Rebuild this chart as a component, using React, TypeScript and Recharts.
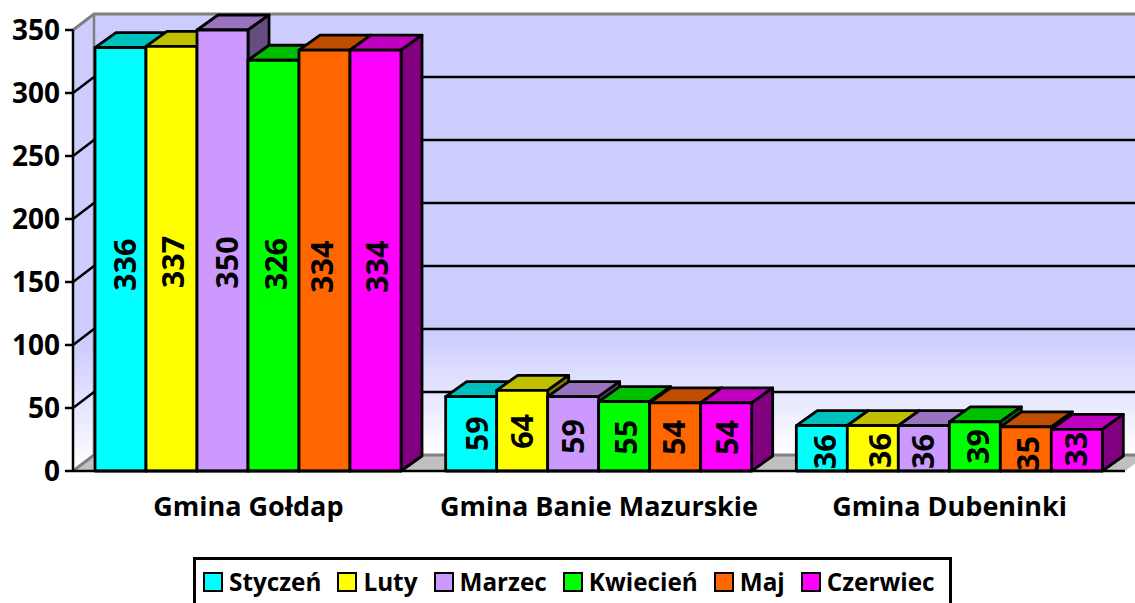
import React from "react";
import { BarChart, Bar, XAxis, YAxis, CartesianGrid, ReferenceArea, Legend, LabelList } from "recharts";

const categories = ["Gmina Gołdap", "Gmina Banie Mazurskie", "Gmina Dubeninki"];
const styczen = [336, 59, 36];
const luty = [337, 64, 36];
const marzec = [350, 59, 36];
const kwiecien = [326, 55, 39];
const maj = [334, 54, 35];
const czerwiec = [334, 54, 33];
const yTicks = [0, 50, 100, 150, 200, 250, 300, 350];
const edgeTicks = [0, 1, 2, 3];

const seriesList = [
  { name: "Styczeń", values: styczen, color: [0, 255, 255] },
  { name: "Luty", values: luty, color: [255, 255, 0] },
  { name: "Marzec", values: marzec, color: [204, 153, 255] },
  { name: "Kwiecień", values: kwiecien, color: [0, 255, 0] },
  { name: "Maj", values: maj, color: [255, 102, 0] },
  { name: "Czerwiec", values: czerwiec, color: [255, 0, 255] },
];

// Label placement nudges (px, relative to the bar centre), one row per series, one column per category.
const labelNudgeX = [
  [5.5, 6.5, 4],
  [2.5, 0, 8],
  [4.5, 0, 0],
  [3, 2, 4],
  [-2, -1, 3],
  [2, 1, 0],
];
const labelNudgeY = [
  [5.4, 0, 3.5],
  [3.3, 0.7, 2.2],
  [12, 2.6, 3.2],
  [-1.5, 1, 0],
  [6.2, 0.5, 4.5],
  [6.2, 0.5, -1],
];

const rows = categories.map((category, i) => {
  const row: Record<string, string | number> = { category };
  seriesList.forEach((s) => (row[s.name] = s.values[i]));
  return row;
});

const DX = 21;
const DY = 15;
const WALL_DY = 16;
const FONT = "'Open Sans', Lato, sans-serif";
const rgb = (c: number[], k = 1) => `rgb(${c.map((v) => Math.round(v * k)).join(",")})`;

const Bar3D = (color: number[]) => (p: any) => {
  const { x, y, width, height } = p;
  if (!(width > 0)) return null;
  return (
    <g stroke="#000" strokeWidth={2.8} strokeLinejoin="round">
      <polygon points={`${x},${y} ${x + DX},${y - DY} ${x + width + DX},${y - DY} ${x + width},${y}`} fill={rgb(color, 0.75)} />
      <polygon points={`${x + width},${y} ${x + width + DX},${y - DY} ${x + width + DX},${y + height - DY} ${x + width},${y + height}`} fill={rgb(color, 0.5)} />
      <rect x={x} y={y} width={width} height={height} fill={rgb(color)} />
    </g>
  );
};

const Walls = (p: any) => {
  const { x, y, width, height } = p;
  const b = y + height;
  const r = x + width;
  return (
    <g>
      <defs>
        <linearGradient id="wallFill" x1="0" y1="0" x2="0" y2="1">
          <stop offset="0.72" stopColor="#ccccff" />
          <stop offset="1" stopColor="#ffffff" />
        </linearGradient>
      </defs>
      <rect x={x + DX} y={y - WALL_DY} width={width} height={height} fill="url(#wallFill)" />
      <polygon points={`${x},${y} ${x + DX},${y - WALL_DY} ${x + DX},${b - WALL_DY} ${x},${b}`} fill="url(#wallFill)" />
      <polygon points={`${x},${b} ${x + DX},${b - WALL_DY} ${r + DX},${b - WALL_DY} ${r},${b}`} fill="#c0c0c0" />
      <line x1={x + DX} y1={y - WALL_DY} x2={x + DX} y2={b - WALL_DY} stroke="#808080" strokeWidth={2.5} />
    </g>
  );
};

const GridLine = (p: any) => {
  const { x1, x2, y1, index } = p;
  const edge = y1 < 40 || y1 > 460;
  return (
    <path
      key={index}
      d={`M${x1},${y1} L${x1 + DX},${y1 - WALL_DY} L${x2 + DX},${y1 - WALL_DY}`}
      fill="none"
      stroke={edge ? "#808080" : "#000"}
      strokeWidth={edge ? 3 : 2.4}
    />
  );
};

const makeLabel = (seriesIndex: number) => (p: any) => {
  const { x, y, width, height, value, index } = p;
  const cx = x + width / 2 - 1.5 + labelNudgeX[seriesIndex][index];
  const cy = y + height / 2 + labelNudgeY[seriesIndex][index];
  const id = `clip-${seriesIndex}-${index}`;
  return (
    <g>
      <clipPath id={id}>
        <rect x={x} y={y} width={width} height={height - 1} />
      </clipPath>
      <g clipPath={`url(#${id})`}>
        <text
          x={cx}
          y={cy}
          transform={`rotate(-90 ${cx} ${cy})`}
          textAnchor="middle"
          dominantBaseline="central"
          fontFamily={FONT}
          fontWeight={700}
          fontSize={30.5}
          fill="#000"
        >
          {value}
        </text>
      </g>
    </g>
  );
};

const LegendBox = () => (
  <div
    style={{
      boxSizing: "border-box",
      width: 759,
      height: 60,
      border: "3px solid #000",
      background: "#fff",
      display: "flex",
      alignItems: "flex-start",
      paddingLeft: 7,
      paddingTop: 5,
      fontFamily: FONT,
      fontWeight: 700,
      fontSize: 24.3,
      color: "#000",
      whiteSpace: "nowrap",
    }}
  >
    {seriesList.map((s) => (
      <div key={s.name} style={{ display: "flex", alignItems: "center", marginRight: 16 }}>
        <span
          style={{
            boxSizing: "border-box",
            display: "inline-block",
            width: 20,
            height: 20,
            border: "2.5px solid #000",
            background: rgb(s.color),
            marginRight: 6,
          }}
        />
        {s.name}
      </div>
    ))}
  </div>
);

export default function App() {
  return (
    <div style={{ position: "absolute", left: 0, top: 0, width: 1135, height: 603, overflow: "hidden", background: "#fff" }}>
      <BarChart
        width={1135}
        height={603}
        data={rows}
        margin={{ top: 30, right: 10, bottom: 11, left: 0 }}
        barCategoryGap={22}
        barGap={0}
      >
        <ReferenceArea y1={0} y2={350} shape={Walls} ifOverflow="visible" zIndex={-200} />
        <CartesianGrid vertical={false} horizontal={GridLine} />
        <XAxis
          type="number"
          dataKey={() => 0}
          domain={[0, 3]}
          ticks={edgeTicks}
          tick={false}
          height={1}
          tickSize={9}
          axisLine={{ stroke: "#000", strokeWidth: 2.5 }}
          tickLine={{ stroke: "#000", strokeWidth: 2.5 }}
        />
        <XAxis
          xAxisId="cat"
          dataKey="category"
          height={60}
          axisLine={false}
          tickLine={false}
          tickMargin={19}
          interval={0}
          tick={{ fontFamily: FONT, fontWeight: 700, fontSize: 27, fill: "#000" }}
        />
        <YAxis
          width={73}
          domain={[0, 350]}
          ticks={yTicks}
          tickSize={8}
          tickMargin={5}
          interval={0}
          axisLine={{ stroke: "#000", strokeWidth: 2.5 }}
          tickLine={{ stroke: "#000", strokeWidth: 2.5 }}
          tick={{ fontFamily: FONT, fontWeight: 700, fontSize: 28, fill: "#000" }}
        />
        {seriesList.map((s, si) => (
          <Bar key={s.name} xAxisId="cat" dataKey={s.name} fill={rgb(s.color)} isAnimationActive={false} shape={Bar3D(s.color)}>
            <LabelList dataKey={s.name} content={makeLabel(si)} />
          </Bar>
        ))}
        <Legend content={LegendBox} wrapperStyle={{ position: "absolute", left: 193, top: 557, width: 759, height: 60, bottom: "auto" }} />
      </BarChart>
    </div>
  );
}
